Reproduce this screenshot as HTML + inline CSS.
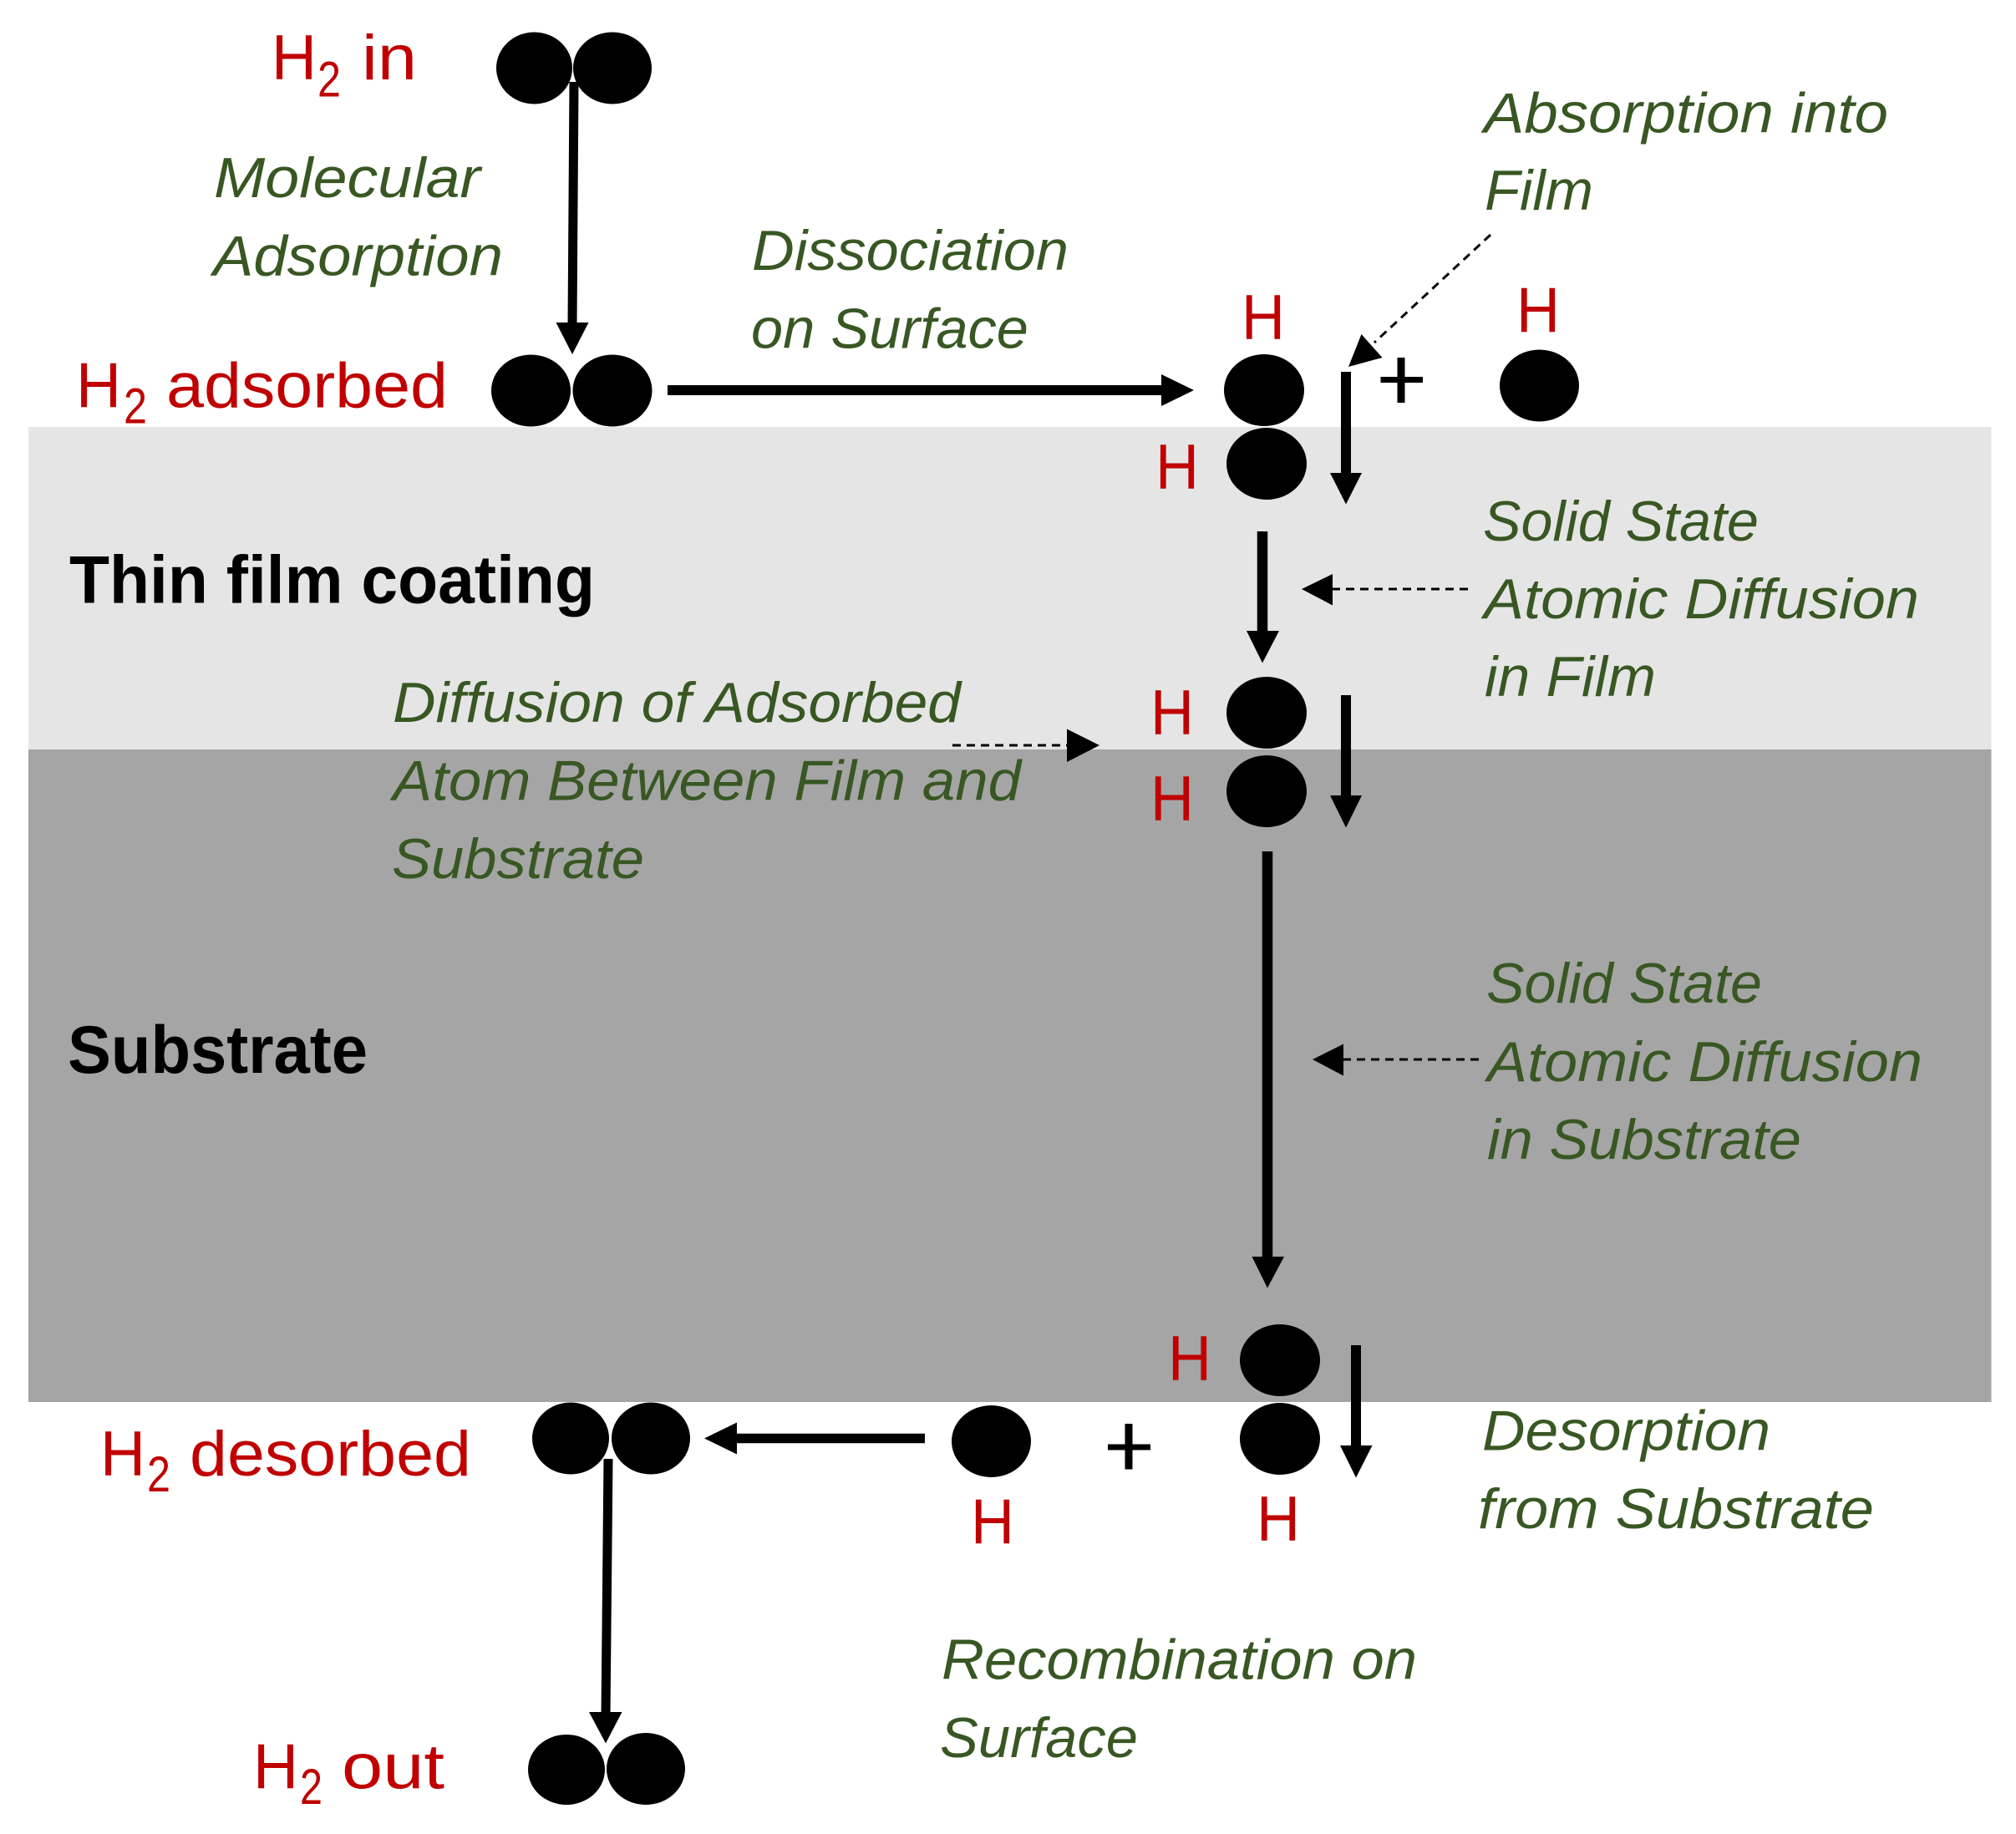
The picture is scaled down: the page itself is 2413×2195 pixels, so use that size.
<!DOCTYPE html>
<html>
<head>
<meta charset="utf-8">
<style>
html,body{margin:0;padding:0;background:#fff;width:2413px;height:2195px;overflow:hidden}
svg{display:block}
text{font-family:"Liberation Sans",sans-serif}
.r{fill:#c00000;font-size:76px}
.s{fill:#c00000;font-size:60px}
.g{fill:#385723;font-size:68px;font-style:italic}
.b{fill:#000;font-size:81px;font-weight:bold}
.l{stroke:#000;fill:none}
.d{stroke:#000;fill:none;stroke-width:3;stroke-dasharray:10 7}
</style>
</head>
<body>
<svg width="2413" height="2195" viewBox="0 0 2413 2195" xmlns="http://www.w3.org/2000/svg">
<rect width="2413" height="2195" fill="#fff"/>
<rect x="34" y="511" width="2349.5" height="386" fill="#e5e5e5"/>
<rect x="34" y="897" width="2349.5" height="781" fill="#a5a5a5"/>

<!-- atoms -->
<g fill="#000">
<ellipse cx="639.5" cy="81.5" rx="45.5" ry="43"/>
<ellipse cx="733" cy="81.5" rx="47" ry="43"/>
<ellipse cx="635.5" cy="467.5" rx="47.5" ry="43"/>
<ellipse cx="733" cy="467.5" rx="47.5" ry="43"/>
<ellipse cx="1513" cy="467" rx="48" ry="43"/>
<ellipse cx="1516" cy="555" rx="48" ry="43"/>
<ellipse cx="1842.5" cy="461.5" rx="47.5" ry="43"/>
<ellipse cx="1516" cy="853" rx="48" ry="43"/>
<ellipse cx="1516" cy="947" rx="48" ry="43"/>
<ellipse cx="1532" cy="1628" rx="48" ry="43"/>
<ellipse cx="1532" cy="1722" rx="48" ry="43"/>
<ellipse cx="1186.5" cy="1725" rx="47.5" ry="43"/>
<ellipse cx="683" cy="1721.5" rx="46" ry="43"/>
<ellipse cx="779" cy="1721.5" rx="47" ry="43"/>
<ellipse cx="678" cy="2118" rx="46" ry="42"/>
<ellipse cx="773" cy="2117" rx="47" ry="43"/>
</g>

<!-- solid arrows -->
<line class="l" stroke-width="11" x1="687" y1="98" x2="685" y2="390"/>
<polygon points="665.5,386 704.5,386 685,424"/>
<line class="l" stroke-width="12" x1="799" y1="467" x2="1395" y2="467"/>
<polygon points="1390,448 1390,486 1429,467"/>
<line class="l" stroke-width="12" x1="1611" y1="445" x2="1611" y2="570"/>
<polygon points="1592,566 1630,566 1611,603.5"/>
<line class="l" stroke-width="12.5" x1="1511" y1="636" x2="1511" y2="760"/>
<polygon points="1492,755 1531,755 1511,793.5"/>
<line class="l" stroke-width="12" x1="1611" y1="832" x2="1611" y2="956"/>
<polygon points="1592,952 1630,952 1611,990.5"/>
<line class="l" stroke-width="12.5" x1="1517" y1="1019" x2="1517" y2="1508"/>
<polygon points="1498.5,1504 1537,1504 1517,1541.5"/>
<line class="l" stroke-width="12" x1="1623" y1="1610" x2="1623" y2="1734"/>
<polygon points="1604,1730 1642.5,1730 1623,1768.5"/>
<line class="l" stroke-width="11.5" x1="1107" y1="1721.5" x2="878" y2="1721.5"/>
<polygon points="882,1702.5 882,1740.5 843,1721.5"/>
<line class="l" stroke-width="11" x1="728" y1="1746" x2="725" y2="2054"/>
<polygon points="705,2049 744.5,2049 725,2086.5"/>

<!-- dashed arrows -->
<line class="d" x1="1784" y1="281" x2="1645" y2="410"/>
<polygon points="1614,439 1629.5,400 1654.5,428"/>
<line class="d" x1="1757" y1="705" x2="1594" y2="705"/>
<polygon points="1595,687 1595,724.5 1558,705"/>
<line class="d" x1="1140" y1="892" x2="1278" y2="892"/>
<polygon points="1277,872.5 1277,912 1316,892"/>
<line class="d" x1="1770" y1="1268" x2="1608" y2="1268"/>
<polygon points="1608,1249.5 1608,1287.5 1571,1268"/>

<!-- plus signs -->
<g stroke="#000" fill="none">
<line stroke-width="7" x1="1652.5" y1="454.5" x2="1703" y2="454.5"/>
<line stroke-width="9" x1="1677" y1="428" x2="1677" y2="482"/>
<line stroke-width="7" x1="1326" y1="1732" x2="1377" y2="1732"/>
<line stroke-width="9" x1="1351" y1="1704" x2="1351" y2="1758.5"/>
</g>

<!-- red labels -->
<text class="r" x="325" y="95" textLength="54" lengthAdjust="spacingAndGlyphs">H</text>
<text class="s" x="380" y="115.5" textLength="28" lengthAdjust="spacingAndGlyphs">2</text>
<text class="r" x="433" y="95" textLength="66" lengthAdjust="spacingAndGlyphs">in</text>

<text class="r" x="91" y="487.5" textLength="54" lengthAdjust="spacingAndGlyphs">H</text>
<text class="s" x="148" y="506.5" textLength="28" lengthAdjust="spacingAndGlyphs">2</text>
<text class="r" x="199" y="487.5" textLength="337" lengthAdjust="spacingAndGlyphs">adsorbed</text>

<text class="r" x="120" y="1766" textLength="54" lengthAdjust="spacingAndGlyphs">H</text>
<text class="s" x="176" y="1785" textLength="28" lengthAdjust="spacingAndGlyphs">2</text>
<text class="r" x="227" y="1766" textLength="337" lengthAdjust="spacingAndGlyphs">desorbed</text>

<text class="r" x="303" y="2140.5" textLength="54" lengthAdjust="spacingAndGlyphs">H</text>
<text class="s" x="359" y="2159" textLength="27" lengthAdjust="spacingAndGlyphs">2</text>
<text class="r" x="409" y="2140.5" textLength="123" lengthAdjust="spacingAndGlyphs">out</text>

<text class="r" x="1486" y="406" textLength="52" lengthAdjust="spacingAndGlyphs">H</text>
<text class="r" x="1815" y="397.5" textLength="52" lengthAdjust="spacingAndGlyphs">H</text>
<text class="r" x="1383" y="585" textLength="52" lengthAdjust="spacingAndGlyphs">H</text>
<text class="r" x="1377" y="879" textLength="52" lengthAdjust="spacingAndGlyphs">H</text>
<text class="r" x="1377" y="982" textLength="52" lengthAdjust="spacingAndGlyphs">H</text>
<text class="r" x="1398" y="1652" textLength="52" lengthAdjust="spacingAndGlyphs">H</text>
<text class="r" x="1504" y="1844" textLength="52" lengthAdjust="spacingAndGlyphs">H</text>
<text class="r" x="1162" y="1847.5" textLength="52" lengthAdjust="spacingAndGlyphs">H</text>

<!-- green labels -->
<text class="g" x="256" y="236" textLength="319" lengthAdjust="spacingAndGlyphs">Molecular</text>
<text class="g" x="255" y="329.5" textLength="347" lengthAdjust="spacingAndGlyphs">Adsorption</text>
<text class="g" x="900" y="323" textLength="379" lengthAdjust="spacingAndGlyphs">Dissociation</text>
<text class="g" x="899" y="416.5" textLength="332" lengthAdjust="spacingAndGlyphs">on Surface</text>
<text class="g" x="1776" y="158.5" textLength="484" lengthAdjust="spacingAndGlyphs">Absorption into</text>
<text class="g" x="1777" y="251" textLength="130" lengthAdjust="spacingAndGlyphs">Film</text>
<text class="g" x="1775" y="647" textLength="330" lengthAdjust="spacingAndGlyphs">Solid State</text>
<text class="g" x="1776" y="740" textLength="521" lengthAdjust="spacingAndGlyphs">Atomic Diffusion</text>
<text class="g" x="1777" y="833" textLength="205" lengthAdjust="spacingAndGlyphs">in Film</text>
<text class="g" x="470" y="864" textLength="680" lengthAdjust="spacingAndGlyphs">Diffusion of Adsorbed</text>
<text class="g" x="470" y="957.5" textLength="752" lengthAdjust="spacingAndGlyphs">Atom Between Film and</text>
<text class="g" x="469" y="1051" textLength="302" lengthAdjust="spacingAndGlyphs">Substrate</text>
<text class="g" x="1779" y="1200" textLength="330" lengthAdjust="spacingAndGlyphs">Solid State</text>
<text class="g" x="1780" y="1294" textLength="521" lengthAdjust="spacingAndGlyphs">Atomic Diffusion</text>
<text class="g" x="1780" y="1387" textLength="376" lengthAdjust="spacingAndGlyphs">in Substrate</text>
<text class="g" x="1774" y="1735.5" textLength="345" lengthAdjust="spacingAndGlyphs">Desorption</text>
<text class="g" x="1769" y="1829" textLength="474" lengthAdjust="spacingAndGlyphs">from Substrate</text>
<text class="g" x="1127" y="2009.5" textLength="569" lengthAdjust="spacingAndGlyphs">Recombination on</text>
<text class="g" x="1125" y="2103" textLength="237" lengthAdjust="spacingAndGlyphs">Surface</text>

<!-- black bold labels -->
<text class="b" x="83" y="721.5" textLength="629" lengthAdjust="spacingAndGlyphs">Thin film coating</text>
<text class="b" x="81" y="1284" textLength="359" lengthAdjust="spacingAndGlyphs">Substrate</text>
</svg>
</body>
</html>
